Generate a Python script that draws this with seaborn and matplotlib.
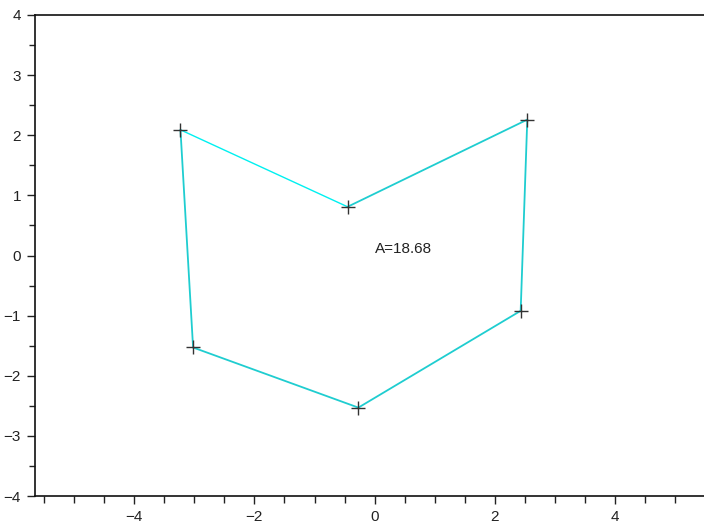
import numpy as np
import pandas as pd
import matplotlib
matplotlib.use("Agg")
import matplotlib.pyplot as plt
from matplotlib.ticker import MultipleLocator
import seaborn as sns

sns.set_theme(style="ticks")
plt.rcParams['font.family'] = ['Liberation Sans', 'DejaVu Sans']

# polygon vertices (in drawing order)
px = [-3.23, -0.45, 2.54, 2.43, -0.27, -3.02]
py = [2.09, 0.81, 2.26, -0.92, -2.53, -1.53]
area_label = "A=18.68"

# closed outline
cx = px + [px[0]]
cy = py + [py[0]]
df = pd.DataFrame({"x": cx, "y": cy, "order": range(len(cx))})
pts = pd.DataFrame({"x": px, "y": py})

fig = plt.figure(figsize=(7.04, 5.25), dpi=100)
ax = fig.add_axes([35 / 704, 29 / 525, 1 - 35 / 704, 481 / 525])

# first edge in pure cyan, remaining edges slightly darker
sns.lineplot(data=df.iloc[:2], x="x", y="y", sort=False, color="#00f0f0",
             lw=1.0, ax=ax, estimator=None)
sns.lineplot(data=df.iloc[1:], x="x", y="y", sort=False, color="#1fcdd0",
             lw=1.3, ax=ax, estimator=None)
sns.scatterplot(data=pts, x="x", y="y", marker="+", s=110, color="#333333",
                linewidth=1.0, ax=ax, zorder=5)

ax.text(0.0, 0.11, area_label, ha="left", va="center", fontsize=11,
        color="#222222")

ax.set_xlim(-5.65, 5.48)
ax.set_ylim(-4, 4)
ax.xaxis.set_major_locator(MultipleLocator(2))
ax.xaxis.set_minor_locator(MultipleLocator(0.5))
ax.yaxis.set_major_locator(MultipleLocator(1))
ax.yaxis.set_minor_locator(MultipleLocator(0.5))
ax.tick_params(which="major", length=6, width=1, labelsize=11,
               colors="#222222", pad=4)
ax.tick_params(which="minor", length=5, width=1, colors="#222222")
ax.tick_params(axis="x", which="minor", length=5)
ax.tick_params(axis="y", which="minor", length=4)
ax.set_xlabel("")
ax.set_ylabel("")
for side in ["left", "top", "bottom"]:
    ax.spines[side].set_linewidth(1.2)
    ax.spines[side].set_color("#111111")
ax.spines["right"].set_visible(False)

fig.savefig("out.png", dpi=100)
